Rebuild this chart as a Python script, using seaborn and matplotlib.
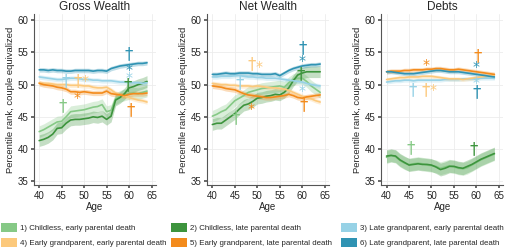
import numpy as np
import pandas as pd
import seaborn as sns
import matplotlib.pyplot as plt
from matplotlib.patches import Patch

ages = list(range(40, 65))
panels = ["Gross Wealth", "Net Wealth", "Debts"]
groups = ["1) Childless, early parental death",
          "2) Childless, late parental death",
          "3) Late grandparent, early parental death",
          "4) Early grandparent, early parental death",
          "5) Early grandparent, late parental death",
          "6) Late grandparent, late parental death"]
colors = ["#86c986", "#3d943d", "#97d2e6", "#fcc97c", "#f38b1c", "#2f93b3"]

# percentile ranks, ages 40..64
gross = [
    [42.7, 43.0, 43.4, 43.8, 44.2, 44.3, 45.0, 45.8, 45.9, 46.0, 46.1, 46.3, 46.5, 46.6, 46.9, 45.8, 46.0, 47.8, 48.2, 48.4, 48.6, 48.7, 48.6, 48.8, 49.0],
    [41.3, 41.5, 41.8, 42.3, 43.2, 43.3, 44.0, 44.5, 44.6, 44.6, 44.7, 44.8, 45.0, 44.9, 45.1, 44.6, 45.1, 47.6, 48.0, 48.6, 49.5, 49.7, 50.0, 50.2, 50.5],
    [51.2, 51.1, 51.0, 50.9, 50.8, 50.8, 50.9, 51.0, 51.0, 50.9, 50.8, 50.8, 50.7, 50.7, 50.6, 50.6, 50.6, 50.5, 50.4, 50.4, 50.3, 50.3, 50.3, 50.2, 50.3],
    [50.3, 50.2, 50.2, 50.1, 50.0, 50.0, 50.0, 49.9, 49.9, 49.9, 49.8, 49.8, 49.6, 49.5, 49.5, 49.6, 49.2, 48.7, 48.4, 48.2, 48.0, 47.8, 47.6, 47.5, 47.3],
    [50.2, 50.0, 49.9, 49.8, 49.6, 49.5, 49.3, 48.9, 48.9, 48.8, 48.9, 48.8, 48.7, 48.7, 48.7, 49.0, 48.6, 48.5, 48.4, 48.3, 48.5, 48.6, 48.6, 48.6, 48.7],
    [52.3, 52.3, 52.2, 52.3, 52.2, 52.2, 52.1, 52.1, 52.2, 52.2, 52.2, 52.2, 52.1, 52.2, 52.2, 52.1, 52.5, 52.7, 52.9, 53.0, 53.1, 53.2, 53.3, 53.3, 53.4],
]
net = [
    [45.1, 45.4, 45.8, 46.1, 46.8, 47.5, 47.9, 48.3, 48.8, 49.0, 49.2, 49.4, 49.5, 49.6, 49.7, 49.8, 49.6, 50.3, 50.8, 51.0, 51.0, 50.5, 49.8, 49.3, 48.8],
    [43.8, 44.0, 44.0, 44.5, 45.0, 45.5, 46.2, 46.8, 47.0, 47.4, 47.9, 48.0, 48.2, 48.3, 48.5, 48.4, 48.8, 49.5, 50.6, 51.5, 51.8, 52.0, 52.0, 52.0, 52.0],
    [51.2, 51.2, 51.3, 51.3, 51.3, 51.4, 51.4, 51.3, 51.2, 51.2, 51.1, 51.1, 51.0, 51.0, 51.0, 50.9, 50.8, 50.7, 50.6, 50.5, 50.4, 50.2, 50.0, 49.9, 49.8],
    [50.2, 50.1, 50.0, 50.0, 49.9, 49.9, 49.8, 49.8, 49.8, 49.7, 49.8, 49.7, 49.6, 49.5, 49.5, 49.4, 49.3, 49.1, 48.8, 48.5, 48.2, 48.0, 47.8, 47.5, 47.3],
    [49.8, 49.7, 49.6, 49.4, 49.3, 49.2, 48.9, 48.6, 48.4, 48.3, 48.2, 48.1, 48.0, 48.0, 48.1, 48.2, 48.3, 48.5, 48.3, 48.0, 47.9, 48.1, 48.2, 48.3, 48.4],
    [51.6, 51.6, 51.7, 51.8, 51.7, 51.7, 51.8, 51.8, 51.8, 51.7, 51.7, 51.6, 51.6, 51.6, 51.7, 51.4, 51.8, 52.2, 52.5, 52.7, 52.9, 53.0, 53.1, 53.1, 53.2],
]
debts = [
    [38.7, 39.0, 38.8, 38.2, 37.8, 37.6, 37.7, 37.8, 37.7, 37.5, 37.4, 37.3, 37.0, 37.2, 37.4, 37.2, 37.0, 36.9, 37.1, 37.5, 37.9, 38.3, 38.6, 38.9, 39.2],
    [38.9, 39.0, 38.9, 38.3, 37.9, 37.5, 37.6, 37.7, 37.6, 37.6, 37.5, 37.2, 36.8, 37.0, 37.3, 37.3, 37.1, 37.0, 37.3, 37.6, 38.0, 38.4, 38.7, 39.0, 39.3],
    [50.4, 50.5, 50.6, 50.6, 50.7, 50.7, 50.6, 50.7, 50.7, 50.7, 50.7, 50.7, 50.7, 50.8, 50.8, 50.8, 50.8, 50.9, 50.9, 50.9, 50.9, 51.0, 51.0, 51.0, 51.0],
    [50.8, 50.9, 51.0, 51.1, 51.1, 51.2, 51.2, 51.2, 51.3, 51.3, 51.3, 51.2, 51.1, 51.0, 50.9, 50.9, 50.9, 50.8, 50.9, 51.0, 51.1, 51.2, 51.3, 51.4, 51.5],
    [52.0, 52.1, 52.1, 52.1, 52.2, 52.2, 52.3, 52.3, 52.3, 52.4, 52.4, 52.5, 52.5, 52.4, 52.3, 52.3, 52.4, 52.3, 52.2, 52.1, 52.0, 51.9, 51.8, 51.7, 51.6],
    [52.0, 52.0, 51.9, 51.8, 51.7, 51.7, 51.7, 51.8, 51.9, 52.0, 52.1, 52.2, 52.2, 52.1, 52.0, 52.0, 52.0, 51.9, 51.8, 51.7, 51.6, 51.5, 51.4, 51.3, 51.2],
]
# confidence band half-widths per group
ci_gross = [0.9, 0.9, 0.35, 0.35, 0.4, 0.35]
ci_net = [0.9, 0.9, 0.35, 0.35, 0.4, 0.35]
ci_debts = [1.0, 1.0, 0.3, 0.3, 0.35, 0.3]

# significance markers: (age, value, symbol, group index)
marks_gross = [(45.8, 50.5, "†", 2), (48.5, 50.5, "†", 3), (50.3, 50.6, "*", 3), (48.5, 48.0, "*", 4),
               (45.3, 46.6, "†", 0), (60, 54.8, "†", 5), (60, 52.2, "*", 5), (60, 51.0, "*", 2),
               (59.6, 49.9, "†", 1), (60.3, 46.0, "†", 4)]
marks_net = [(46, 50.2, "†", 2), (48.7, 53.2, "†", 3), (50.4, 52.7, "*", 3), (48.7, 46.2, "*", 4),
             (45.3, 44.8, "†", 0), (60, 55.7, "†", 5), (60, 53.6, "*", 5), (59.7, 51.7, "†", 1),
             (60, 49.0, "*", 2), (60.3, 46.8, "†", 4)]
marks_debts = [(48.7, 53.1, "*", 4), (45.8, 49.1, "†", 2), (48.7, 49.1, "†", 3), (50.4, 49.2, "*", 3),
               (60.3, 54.5, "†", 4), (60, 52.7, "*", 5), (60, 50.2, "*", 2), (60, 48.8, "†", 5),
               (45.3, 40.1, "†", 0), (59.5, 40.0, "†", 1)]

all_data = [gross, net, debts]
all_ci = [ci_gross, ci_net, ci_debts]
all_marks = [marks_gross, marks_net, marks_debts]

sns.set_theme(style="whitegrid")
plt.rcParams['font.family'] = ['Liberation Sans', 'DejaVu Sans']

fig = plt.figure(figsize=(5.2, 2.48), dpi=100)
lefts = [0.065, 0.398, 0.733]
for p in range(3):
    ax = fig.add_axes([lefts[p], 0.254, 0.235, 0.69])
    rows = []
    for g in range(6):
        for a, v in zip(ages, all_data[p][g]):
            rows.append({"Age": a, "val": v, "group": groups[g]})
    df = pd.DataFrame(rows)
    for g in range(6):
        y = np.array(all_data[p][g])
        ax.fill_between(ages, y - all_ci[p][g], y + all_ci[p][g], color=colors[g], alpha=0.3, lw=0)
    sns.lineplot(data=df, x="Age", y="val", hue="group", palette=dict(zip(groups, colors)),
                 legend=False, lw=1.2, ax=ax)
    for a, v, s, g in all_marks[p]:
        ax.text(a, v, s, color=colors[g], fontsize=12 if s == "†" else 10,
                ha="center", va="center", family="DejaVu Sans")
    ax.set_xlim(38.8, 66)
    ax.set_ylim(34.4, 61)
    ax.set_xticks([40, 45, 50, 55, 60, 65])
    ax.set_yticks([35, 40, 45, 50, 55, 60])
    ax.tick_params(labelsize=7, length=2.5, pad=1.5, left=True, bottom=True, color="#555555")
    ax.grid(color="#ececec", lw=0.6)
    for side in ["top", "right"]:
        ax.spines[side].set_visible(False)
    for side in ["left", "bottom"]:
        ax.spines[side].set_color("#555555")
        ax.spines[side].set_linewidth(0.8)
    ax.set_title(panels[p], fontsize=8.5, pad=3)
    ax.set_xlabel("Age", fontsize=7, labelpad=1)
    ax.set_ylabel("Percentile rank, couple equivalized", fontsize=6.8, labelpad=2)

leg_x = [0.0, 0.327, 0.654]
for c in range(3):
    idx = [c, c + 3]
    handles = [Patch(facecolor=colors[i], edgecolor="none") for i in idx]
    fig.legend(handles, [groups[i] for i in idx], loc="lower left", bbox_to_anchor=(leg_x[c], 0.0),
               frameon=False, fontsize=5.7, handlelength=2.0, handleheight=1.4, handletextpad=0.45,
               labelspacing=0.75, borderaxespad=0.0, borderpad=0.1)

fig.savefig("out.png", dpi=100)
